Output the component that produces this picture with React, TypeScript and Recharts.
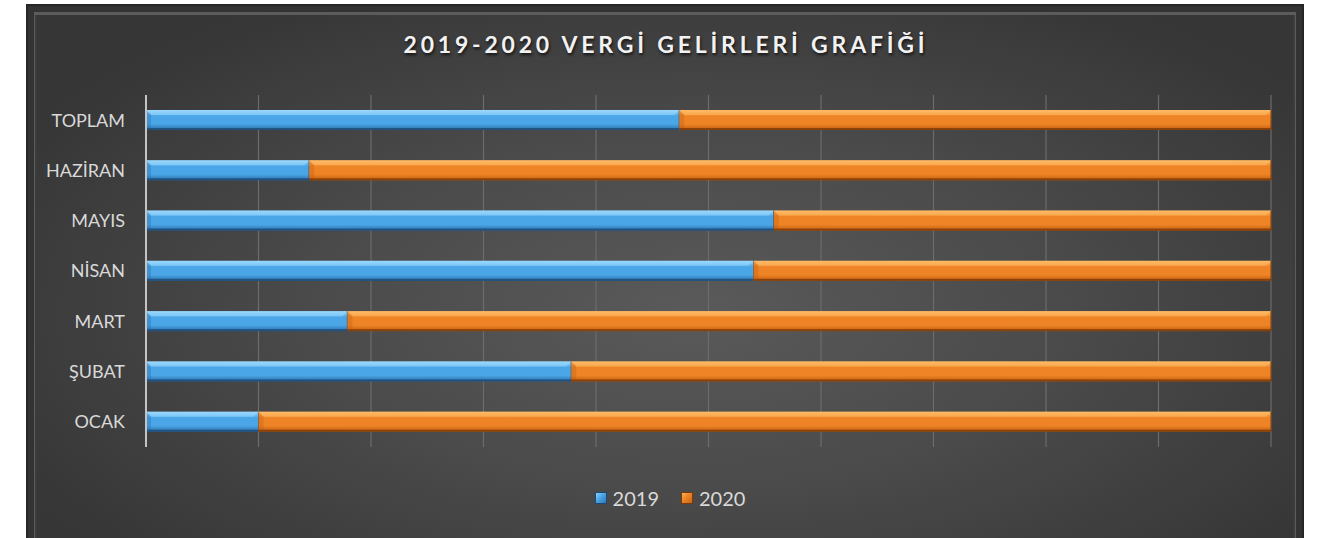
import { Bar, BarChart, CartesianGrid, XAxis, YAxis } from "recharts";

const categories = ["OCAK", "ŞUBAT", "MART ", "NİSAN", "MAYIS", "HAZİRAN", "TOPLAM"];
const share2019 = [10.0, 37.8, 17.9, 54.0, 55.8, 14.5, 47.4];
const share2020 = [90.0, 62.2, 82.1, 46.0, 44.2, 85.5, 52.6];
const xTicks = [0, 0.1, 0.2, 0.3, 0.4, 0.5, 0.6, 0.7, 0.8, 0.9, 1];
const seriesNames = ["2019", "2020"];

const data = categories.map((c, i) => ({
  name: c,
  y2019: share2019[i],
  y2020: share2020[i],
}));

const W = 1332;
const H = 538;
const FONT = "Lato, 'Open Sans', sans-serif";

const PALETTE = {
  blue: { light: "#9ad8ff", mid: "#4aa6e6", dark: "#2b6ea8", edge: "#1d4a75" },
  orange: { light: "#ffbb66", mid: "#ee8425", dark: "#c25e10", edge: "#7a3a08" },
};

// bevelled Excel-ish bar: gradient body + light top face + dark bottom lip
function bevelShape(key: "blue" | "orange") {
  const c = PALETTE[key];
  return (props: any) => {
    const { x, y, width, height } = props;
    if (!width || width <= 0) return <g />;
    const b = 5;
    return (
      <g>
        <rect x={x} y={y} width={width} height={height} fill={`url(#g-${key})`} />
        <polygon
          points={`${x},${y} ${x + width},${y} ${x + width - b},${y + b} ${x + b},${y + b}`}
          fill={c.light}
          opacity={0.55}
        />
        <polygon
          points={`${x},${y} ${x + b},${y + b} ${x + b},${y + height - 2} ${x},${y + height}`}
          fill={c.dark}
          opacity={0.35}
        />
        <rect x={x} y={y + height - 2} width={width} height={2} fill={c.edge} opacity={0.8} />
        <line x1={x + width} y1={y} x2={x + width} y2={y + height} stroke={c.edge} strokeWidth={1} />
      </g>
    );
  };
}

function LegendItem({ label, kind }: { label: string; kind: "blue" | "orange" }) {
  const c = PALETTE[kind];
  return (
    <div style={{ display: "flex", alignItems: "center", gap: 6 }}>
      <span
        style={{
          width: 12,
          height: 12,
          background: `linear-gradient(135deg, ${c.light} 0%, ${c.mid} 45%, ${c.dark} 100%)`,
          boxShadow: `inset 0 0 0 1px ${c.edge}`,
        }}
      />
      <span>{label}</span>
    </div>
  );
}

export default function App() {
  return (
    <div
      style={{
        position: "absolute",
        left: 0,
        top: 0,
        width: W,
        height: H,
        background: "#fff",
        overflow: "hidden",
        fontFamily: FONT,
      }}
    >
      {/* chart frame */}
      <div
        style={{
          position: "absolute",
          left: 26,
          top: 4,
          width: 1278,
          height: 560,
          background:
            "radial-gradient(ellipse 60% 65% at 52% 55%, #5a5a5a 0%, #4a4a4a 50%, #363636 100%)",
          boxShadow:
            "inset 0 0 0 2px #262626, inset 0 0 0 8px #333, inset 0 2px 0 9px #5c5c5c, inset 0 0 0 11px #3c3c3c",
        }}
      />
      <div
        style={{
          position: "absolute",
          left: 0,
          top: 30,
          width: W,
          textAlign: "center",
          color: "#f2f2f2",
          fontWeight: 700,
          fontSize: 23,
          letterSpacing: 3.8,
          textShadow: "1px 2px 3px rgba(0,0,0,0.7)",
        }}
      >
        2019-2020 VERGİ GELİRLERİ GRAFİĞİ
      </div>

      <div style={{ position: "absolute", left: 0, top: 0 }}>
        <BarChart
          width={W}
          height={H}
          data={data}
          layout="vertical"
          stackOffset="expand"
          margin={{ top: 95, right: 61, bottom: 91, left: 16 }}
        >
          <defs>
            {(["blue", "orange"] as const).map((k) => (
              <linearGradient key={k} id={`g-${k}`} x1="0" y1="0" x2="0" y2="1">
                <stop offset="0%" stopColor={PALETTE[k].light} />
                <stop offset="30%" stopColor={PALETTE[k].mid} />
                <stop offset="70%" stopColor={PALETTE[k].mid} />
                <stop offset="100%" stopColor={PALETTE[k].dark} />
              </linearGradient>
            ))}
          </defs>
          <CartesianGrid horizontal={false} stroke="#6c6c6c" strokeWidth={1.2} />
          <XAxis
            type="number"
            domain={[0, 1]}
            ticks={xTicks}
            axisLine={false}
            tickLine={false}
            tick={() => <g />}
            height={0}
          />
          <YAxis
            type="category"
            dataKey="name"
            reversed
            width={130}
            axisLine={{ stroke: "#c4c4c4", strokeWidth: 2 }}
            tickLine={false}
            tickSize={0}
            tickMargin={21}
            tick={{ fill: "#d9d9d9", fontSize: 18, fontFamily: FONT }}
          />
          <Bar
            dataKey="y2019"
            name={seriesNames[0]}
            stackId="a"
            barSize={20}
            isAnimationActive={false}
            shape={bevelShape("blue")}
          />
          <Bar
            dataKey="y2020"
            name={seriesNames[1]}
            stackId="a"
            barSize={20}
            isAnimationActive={false}
            shape={bevelShape("orange")}
          />
        </BarChart>
      </div>

      <div
        style={{
          position: "absolute",
          left: 0,
          top: 486,
          width: W,
          display: "flex",
          justifyContent: "center",
          gap: 22,
          color: "#d9d9d9",
          fontSize: 20,
          paddingLeft: 4,
        }}
      >
        <LegendItem label={seriesNames[0]} kind="blue" />
        <LegendItem label={seriesNames[1]} kind="orange" />
      </div>
    </div>
  );
}
